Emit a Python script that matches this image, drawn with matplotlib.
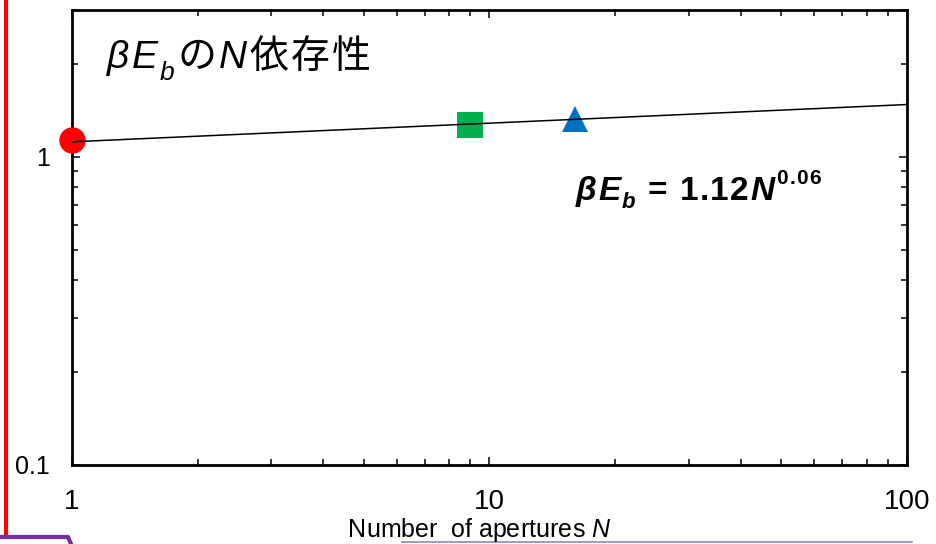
import matplotlib.pyplot as plt
from matplotlib.lines import Line2D
from matplotlib.ticker import LogLocator, NullFormatter, FixedLocator, FixedFormatter

# measured points (beta*E_b versus number of apertures)
n_apertures = [1, 9, 16]
beta_eb = [1.135, 1.27, 1.33]
point_colors = ['#FF0000', '#00B050', '#0070C0']
point_markers = ['o', 's', '^']

# fitted power law, read at the ends of the axis
fit_n = [1, 100]
fit_val = [1.12, 1.48]

x_ticks = [1, 10, 100]
x_labels = ['1', '10', '100']
y_ticks = [0.1, 1]
y_labels = ['0.1', '1']

W, H = 937, 544
fig = plt.figure(figsize=(W / 100, H / 100), dpi=100)
ax = fig.add_axes([72 / W, 1 - 465 / H, (907 - 72) / W, (465 - 10) / H])

ax.set_xscale('log')
ax.set_yscale('log')
ax.set_xlim(1, 100)
ax.set_ylim(0.1, 3)

ax.plot(fit_n, fit_val, color='black', lw=1.1, zorder=4)
for n, v, c, m in zip(n_apertures, beta_eb, point_colors, point_markers):
    ax.plot(n, v, marker=m, color=c, markersize=19, markeredgewidth=0,
            linestyle='none', clip_on=False, zorder=3)

ax.xaxis.set_major_locator(FixedLocator(x_ticks))
ax.xaxis.set_major_formatter(FixedFormatter(x_labels))
ax.yaxis.set_major_locator(FixedLocator(y_ticks))
ax.yaxis.set_major_formatter(FixedFormatter(y_labels))
ax.xaxis.set_minor_locator(LogLocator(base=10, subs=range(2, 10)))
ax.yaxis.set_minor_locator(LogLocator(base=10, subs=range(2, 10)))
ax.xaxis.set_minor_formatter(NullFormatter())
ax.yaxis.set_minor_formatter(NullFormatter())

for s in ax.spines.values():
    s.set_linewidth(2)
ax.tick_params(which='both', direction='in', top=True, right=True, width=1.1)
ax.tick_params(which='major', length=6)
ax.tick_params(which='minor', length=4)
ax.tick_params(axis='x', which='major', pad=17)
ax.tick_params(axis='y', which='major', pad=16)
for lab in ax.get_xticklabels():
    lab.set_fontfamily('Liberation Sans')
    lab.set_fontsize(20)
for lab in ax.get_yticklabels():
    lab.set_fontfamily('Liberation Sans')
    lab.set_fontsize(18)

renderer = fig.canvas.get_renderer()


def chain(pieces, x0, base, gap=0):
    # pieces: (text, size, style, weight, raise in px); gap = extra px per char
    x = x0
    for s, size, style, weight, dy in pieces:
        for ch in s:
            t = fig.text(x / W, (H - base + dy) / H, ch, fontsize=size, fontstyle=style,
                         fontweight=weight, va='baseline', ha='left',
                         family=['Liberation Sans', 'Noto Sans CJK JP'])
            x = t.get_window_extent(renderer).x1 + gap
    return x


# title inside the axes
chain([('β', 28, 'italic', 'normal', 0),
       ('E', 28, 'italic', 'normal', 0),
       ('b', 19, 'italic', 'normal', -12),
       ('の', 28, 'normal', 'normal', 0),
       ('N', 28, 'italic', 'normal', 0),
       ('依存性', 28, 'normal', 'normal', 0)], 107, 68, gap=2.5)

# fit equation
chain([('β', 24, 'italic', 'bold', 0),
       ('E', 24, 'italic', 'bold', 0),
       ('b', 16, 'italic', 'bold', -8),
       (' = 1.12', 24, 'normal', 'bold', 0),
       ('N', 24, 'italic', 'bold', 0),
       ('0.06', 15, 'normal', 'bold', 16)], 576, 200, gap=1.5)

# x axis label
chain([('Number  of apertures ', 18, 'normal', 'normal', 0),
       ('N', 18, 'italic', 'normal', 0)], 348, 537)

# slide decorations around the chart
fig.add_artist(Line2D([6 / W, 6 / W], [1, 1 - 536 / H], color='#FF0000', lw=3))
fig.add_artist(Line2D([0, 68 / W, 71 / W], [1 - 537 / H, 1 - 537 / H, 0],
                      color='#7030A0', lw=3))
fig.add_artist(Line2D([402 / W, 912 / W], [1 - 542 / H, 1 - 542 / H],
                      color='#8A8AC8', lw=1.2))

fig.savefig('out.png', dpi=100)
